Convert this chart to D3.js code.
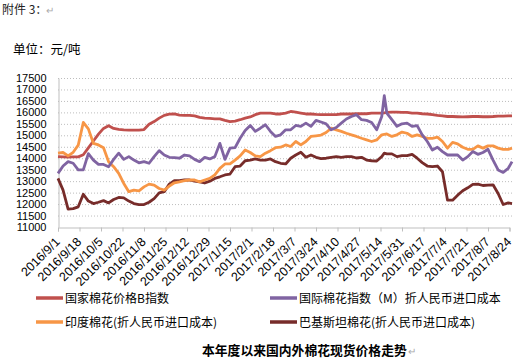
<!DOCTYPE html>
<html><head><meta charset="utf-8">
<script src="https://cdn.jsdelivr.net/npm/d3@7"></script>
<style>body{margin:0;background:#fff}svg{display:block}</style>
</head><body>
<svg id="c" width="517" height="359"></svg>
<script>
const dates=["2016/9/1","2016/9/5","2016/9/9","2016/9/13","2016/9/17","2016/9/21","2016/9/25","2016/9/29","2016/10/3","2016/10/7","2016/10/11","2016/10/15","2016/10/19","2016/10/23","2016/10/27","2016/10/31","2016/11/4","2016/11/8","2016/11/12","2016/11/16","2016/11/20","2016/11/24","2016/11/28","2016/12/2","2016/12/6","2016/12/10","2016/12/14","2016/12/18","2016/12/22","2016/12/26","2016/12/30","2017/1/3","2017/1/7","2017/1/11","2017/1/15","2017/1/19","2017/1/23","2017/1/27","2017/1/31","2017/2/4","2017/2/8","2017/2/12","2017/2/16","2017/2/20","2017/2/24","2017/2/28","2017/3/4","2017/3/8","2017/3/12","2017/3/16","2017/3/20","2017/3/24","2017/3/28","2017/4/1","2017/4/5","2017/4/9","2017/4/13","2017/4/17","2017/4/21","2017/4/25","2017/4/29","2017/5/3","2017/5/7","2017/5/11","2017/5/15","2017/5/17","2017/5/19","2017/5/23","2017/5/27","2017/5/31","2017/6/4","2017/6/8","2017/6/12","2017/6/16","2017/6/20","2017/6/24","2017/6/28","2017/7/2","2017/7/6","2017/7/10","2017/7/14","2017/7/18","2017/7/22","2017/7/26","2017/7/30","2017/8/3","2017/8/7","2017/8/11","2017/8/15","2017/8/19","2017/8/23","2017/8/26"];
const chinaB=[14070,14060,14050,14060,14060,14150,14450,14750,15050,15300,15420,15300,15260,15240,15230,15230,15230,15250,15480,15600,15750,15870,15920,15930,15880,15870,15870,15850,15780,15750,15740,15720,15720,15650,15600,15620,15680,15750,15800,15900,15970,15970,15970,15930,15930,15970,16040,16010,15970,15930,15930,15910,15900,15900,15900,15900,15930,15930,15930,15940,15940,15940,15970,15970,15970,15980,16000,16010,16010,16000,16000,15970,15970,15940,15930,15900,15870,15850,15820,15820,15810,15800,15810,15820,15820,15810,15810,15820,15840,15840,15850,15850];
const intlM=[13340,13660,13850,13780,13490,13490,14200,13920,13730,13730,13630,13950,14220,13950,14070,13920,13800,13850,13780,14070,14330,14140,14040,14030,14000,14140,14100,13950,13850,14040,13970,14070,14650,13950,14440,14460,14870,15210,15430,15170,15310,15460,15170,14950,15020,15240,15240,15430,15390,15530,15390,15650,15580,15500,15240,15340,15530,15710,15820,15900,15680,15650,15560,15240,15820,16730,15970,15680,15390,15500,15530,15390,15420,15020,14730,14360,14480,14290,14140,14140,14140,13920,14070,14290,14170,14250,14390,13920,13490,13380,13560,13850];
const india=[14220,14250,14100,14260,14570,15560,15280,14650,14580,14460,13850,13630,13340,12900,12540,12610,12580,12750,12870,12830,12680,12610,12780,12930,12970,13020,13050,13050,12970,13050,13120,13270,13560,13750,13750,13920,14100,14360,14250,14100,14070,14220,14330,14460,14480,14580,14510,14730,14580,14730,14950,14980,15010,15120,15310,15240,15170,15090,15020,14950,14870,14800,14730,14800,15020,15040,15060,14950,15020,15140,15090,14950,15020,14950,14870,14870,14920,14730,14440,14690,14630,14480,14390,14390,14540,14440,14540,14540,14440,14390,14390,14440];
const pakistan=[13120,12610,11780,11800,11880,12430,12130,12020,12080,12150,12050,12200,12290,12270,12130,12020,11980,11980,12080,12240,12490,12540,12870,13020,13020,13050,13050,13000,12970,12920,13000,13120,13190,13270,13310,13630,13660,13890,13920,13970,13920,13920,13970,13850,13780,13750,14000,14140,14260,14040,14140,14040,13980,14000,14040,14070,14040,14070,14070,14010,14040,13920,13890,13880,14070,14220,14190,14190,14070,14110,14110,14170,14000,13810,13660,13630,13660,13410,12170,12170,12390,12580,12710,12860,12870,12810,12830,12840,12460,11980,12050,12020];
const tickLabels=["2016/9/1","2016/9/18","2016/10/5","2016/10/22","2016/11/8","2016/11/25","2016/12/12","2016/12/29","2017/1/15","2017/2/1","2017/2/18","2017/3/7","2017/3/24","2017/4/10","2017/4/27","2017/5/14","2017/5/31","2017/6/17","2017/7/4","2017/7/21","2017/8/7","2017/8/24"];
const yTicks=[11000,11500,12000,12500,13000,13500,14000,14500,15000,15500,16000,16500,17000,17500];
const seriesNames=["国家棉花价格B指数","国际棉花指数（M）折人民币进口成本","印度棉花(折人民币进口成本)","巴基斯坦棉花(折人民币进口成本)"];
const seriesColors=["#c0504d","#8064a2","#f79646","#772c2a"];
const seriesValues=[chinaB,intlM,india,pakistan];
const drawOrder=[0,3,2,1];

const parse=d3.timeParse("%Y/%-m/%-d");
const svg=d3.select("#c");
const cjk="'Noto Sans CJK SC','Noto Sans',sans-serif";
const num="'Liberation Sans',Arial,sans-serif";

const x=d3.scaleTime().domain([parse("2016/9/1"),parse("2017/8/24")]).range([58,509.5]);
const y=d3.scaleLinear().domain([11000,17500]).range([227,78]);

svg.append("text").attr("x",2).attr("y",14).attr("font-family",cjk).attr("font-size",12).attr("fill","#222").text("附件 3：");
svg.append("text").attr("x",46).attr("y",14).attr("font-family",cjk).attr("font-size",10).attr("fill","#aaa").text("↵");
svg.append("text").attr("x",13).attr("y",54).attr("font-family",cjk).attr("font-size",12.5).attr("fill","#000").text("单位：元/吨");

// grid
svg.append("g").selectAll("line").data(yTicks.slice(1)).join("line")
  .attr("x1",58).attr("x2",512).attr("y1",d=>y(d)+0.5).attr("y2",d=>y(d)+0.5)
  .attr("stroke","#bdbdbd").attr("stroke-width",1).attr("stroke-dasharray","1,2");

// y axis
const ya=svg.append("g").attr("transform","translate(58.5,0)").call(d3.axisLeft(y).tickValues(yTicks).tickSize(0).tickPadding(12).tickFormat(d3.format("d")));
ya.select(".domain").attr("stroke","#bfbfbf");
ya.selectAll("text").attr("font-family",num).attr("font-size",11).attr("fill","#000");

// x axis
const tickDates=tickLabels.map(parse);
const xa=svg.append("g").attr("transform","translate(0,227.5)").call(d3.axisBottom(x).tickValues(tickDates).tickSize(4).tickFormat((d,i)=>tickLabels[i]));
xa.select(".domain").attr("stroke","#bfbfbf");
xa.selectAll(".tick line").attr("stroke","#bfbfbf");
xa.selectAll("text").attr("font-family",num).attr("font-size",12.5).attr("fill","#000")
  .attr("text-anchor","end").attr("y",0).attr("dy","0.35em").attr("transform","translate(-1,12) rotate(-45)");

// lines
const line=d3.line().x((d,i)=>x(parse(dates[i]))).y(d=>y(d));
drawOrder.forEach(k=>{
  svg.append("path").datum(seriesValues[k]).attr("d",line).attr("fill","none")
    .attr("stroke",seriesColors[k]).attr("stroke-width",2.8).attr("stroke-linejoin","round");
});

// legend
const legPos=[[36,298],[270,298],[36,322],[270,322]];
seriesNames.forEach((n,i)=>{
  const [lx,ly]=legPos[i];
  svg.append("line").attr("x1",lx).attr("x2",lx+27).attr("y1",ly).attr("y2",ly).attr("stroke",seriesColors[i]).attr("stroke-width",3.5);
  svg.append("text").attr("x",lx+29).attr("y",ly+4.5).attr("font-family",cjk).attr("font-size",12).attr("fill","#000").text(n);
});

svg.append("text").attr("x",202).attr("y",355).attr("font-family",cjk).attr("font-size",12.8).attr("font-weight","bold").attr("fill","#000").text("本年度以来国内外棉花现货价格走势");
svg.append("text").attr("x",408).attr("y",355).attr("font-family",cjk).attr("font-size",10).attr("fill","#aaa").text("↵");
</script>
</body></html>
